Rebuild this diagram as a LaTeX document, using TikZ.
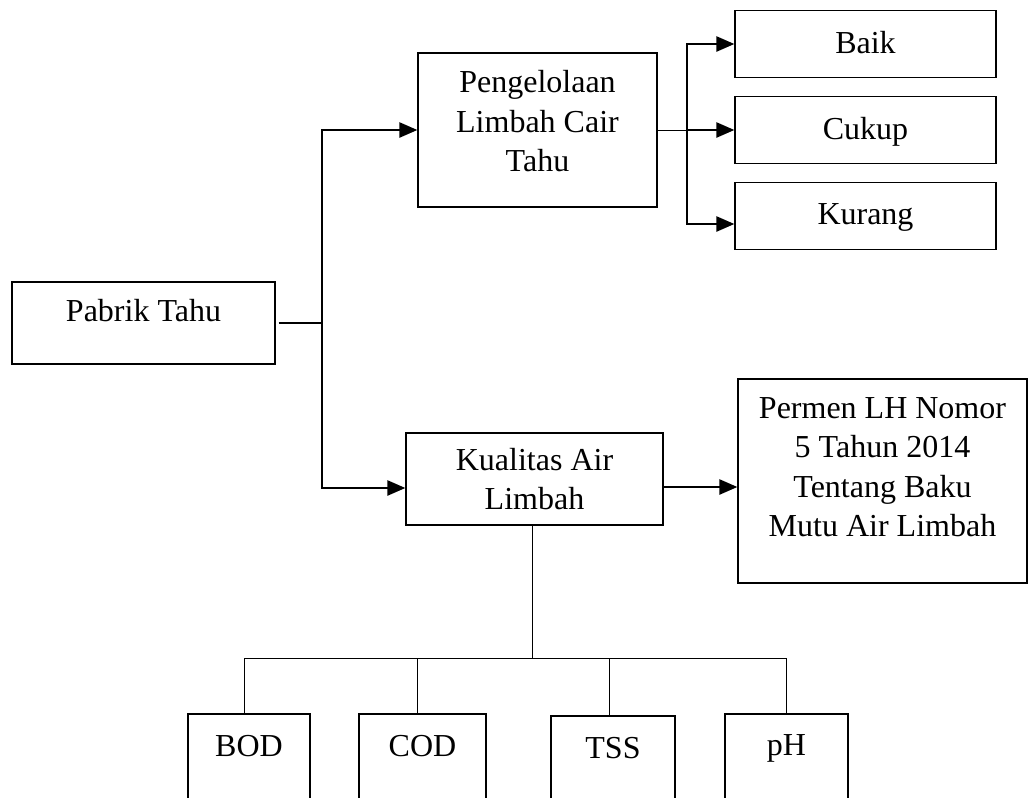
\documentclass[tikz,border=0pt]{standalone}
\usepackage{fontspec}
\setmainfont{Liberation Serif}
\usetikzlibrary{arrows.meta}

\tikzstyle{arrow} = [line width=1.2pt,-{Triangle[length=9pt,width=7.5pt]}]
\tikzstyle{link} = [line width=0.5pt]
\tikzstyle{box} = [
        rectangle,
        align=center,
        font=\fontsize{16}{19.75}\selectfont,
        draw=black,
        line width=0.6pt
    ]
\tikzstyle{grade} = [
        box,
        minimum width=130.5pt,
        minimum height=33.5pt,
        text depth=2pt
    ]
\tikzstyle{param} = [
        box,
        minimum width=61pt,
        minimum height=46pt,
        text depth=14.5pt,
        line width=1.25pt
    ]

\begin{document}
\begin{tikzpicture}[x=1pt,y=1pt,node distance=43pt]
        \useasboundingbox (0,0) rectangle (515,-399);
        \clip (0,0) rectangle (515,-399);

        \node [box, minimum width=131.5pt, minimum height=41pt, text depth=12.2pt] (pabrik) at (71.75,-161.5) {Pabrik Tahu};

        \node [box, minimum width=119.5pt, minimum height=77pt, text depth=9pt] (peng) at (268.75,-65) {Pengelolaan\\Limbah Cair\\Tahu};
        \node [box, minimum width=128.5pt, minimum height=46pt] (kualitas) at (267.25,-239.5) {Kualitas Air\\Limbah};

        \node [grade] (cukup) at (432.75,-65) {Cukup};
        \node [grade, above of=cukup] (baik) {Baik};
        \node [grade, below of=cukup] (kurang) {Kurang};

        \node [box, minimum width=144.5pt, minimum height=102pt, text depth=13.9pt] (permen) at (441.25,-240.5) {Permen LH Nomor\\5 Tahun 2014\\Tentang Baku\\Mutu Air Limbah};

        \node [param] (bod) at (124.5,-380) {BOD};
        \node [param, minimum width=63.5pt, right of=bod, xshift=43.75pt] (cod) {COD};
        \node [param, minimum width=62pt, right of=cod, xshift=52.25pt, yshift=-1pt] (tss) {TSS};
        \node [param, minimum width=61.5pt, right of=tss, xshift=43.75pt, yshift=1pt] (ph) {pH};

        \coordinate (trunk) at (161,-161.5);
        \coordinate (fork) at (343.5,-65);
        \coordinate (bus) at (266,-329);

        \draw [line width=1.2pt] ([xshift=1.5pt]pabrik.east) -- (trunk);
        \draw [arrow] (trunk) |- (peng.west);
        \draw [arrow] (trunk) |- ([yshift=-4.5pt]kualitas.west);

        \draw [link] (peng.east) -- (fork);
        \draw [arrow] (fork) |- (baik.west);
        \draw [arrow] (fork) -- (cukup.west);
        \draw [arrow] (fork) |- ([yshift=-4pt]kurang.west);

        \draw [arrow] ([yshift=-4pt]kualitas.east) -- ([yshift=-4pt]kualitas.east -| permen.west);

        \draw [link] (kualitas.south -| bus) -- (bus);
        \draw [link] (bus) -| ([xshift=-2.5pt]bod.north);
        \draw [link] (bus) -| ([xshift=-2.5pt]cod.north);
        \draw [link] (bus) -| ([xshift=-2pt]tss.north);
        \draw [link] (bus) -| (ph.north);

    \end{tikzpicture}
\end{document}
